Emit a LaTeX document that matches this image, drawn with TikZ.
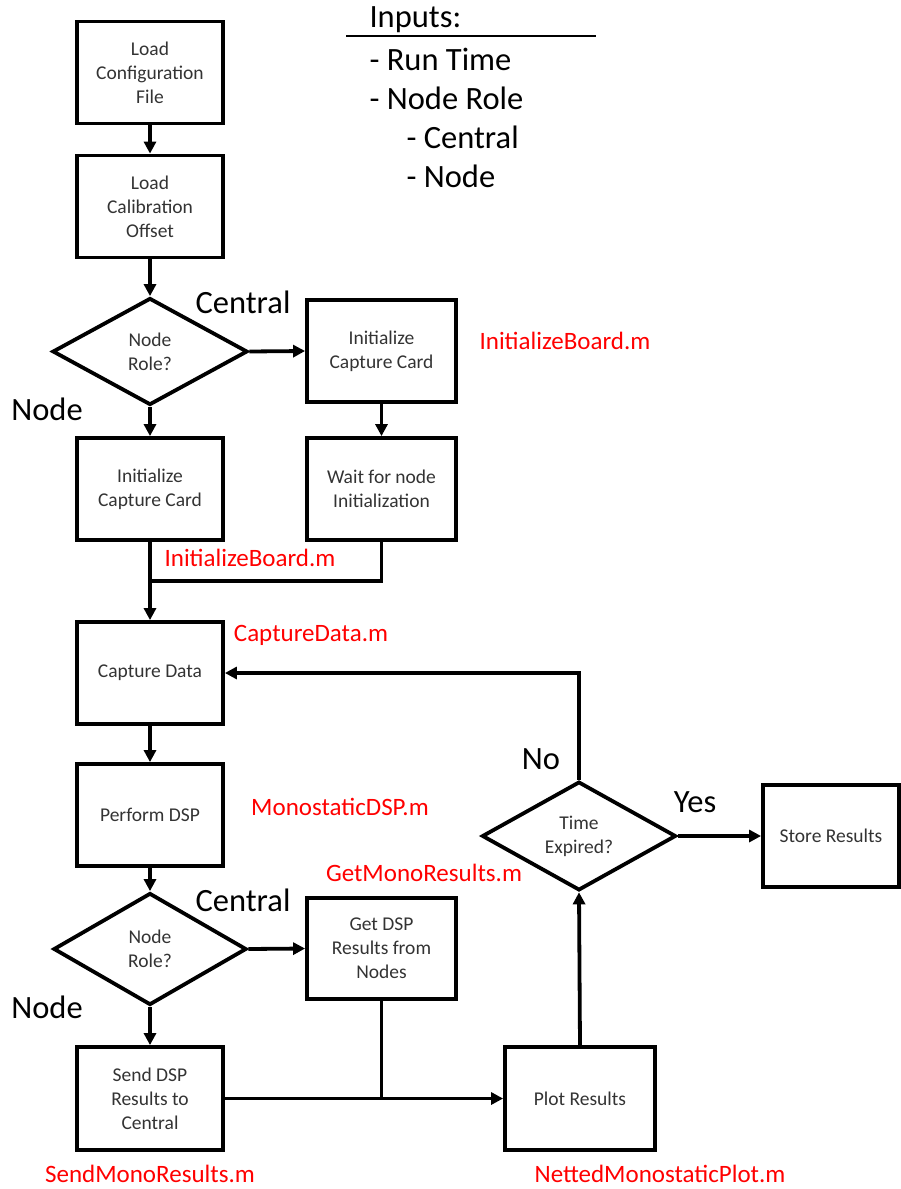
\documentclass[tikz,border=0pt]{standalone}
\usepackage{fontspec}
\setmainfont{Carlito}
\usetikzlibrary{shapes.geometric,arrows.meta}
\definecolor{boxtext}{gray}{0.2}
\definecolor{fnred}{RGB}{255,0,0}
\tikzset{
  every node/.style={font=\fontsize{19.5}{24}\selectfont},
  procbox/.style={draw, line width=3.8pt, minimum width=146pt, minimum height=102pt, inner sep=2pt, align=center, text=boxtext},
  decbox/.style={draw, diamond, line width=3.8pt, minimum width=195pt, minimum height=107pt, inner sep=0pt, align=center, text=boxtext},
  conn/.style={line width=3.8pt},
  arr/.style={line width=3.8pt, -{Triangle[length=12pt,width=12pt]}},
  biglabel/.style={font=\fontsize{32.5}{36}\selectfont, text=black},
  redlabel/.style={font=\fontsize{25}{28}\selectfont, text=fnred},
  inlabel/.style={font=\fontsize{32.5}{36}\selectfont, text=black, anchor=west},
}
\begin{document}
\begin{tikzpicture}[x=1pt,y=-1pt]
\useasboundingbox (0,0) rectangle (901,1189);
% nodes
\node[procbox] (cfg) at (150,72.5) {Load\\Configuration\\File};
\node[procbox] (cal) at (150,206.5) {Load\\Calibration\\Offset};
\node[decbox] (d1) at (150,351.5) {Node\\Role?};
\node[procbox, minimum width=149pt] (icc2) at (381.5,351) {Initialize\\Capture Card};
\node[procbox] (icc1) at (150,489) {Initialize\\Capture Card};
\node[procbox, minimum width=149pt] (wait) at (381.5,489) {Wait for node\\Initialization};
\node[procbox] (cap) at (150,673) {Capture Data};
\node[procbox] (dsp) at (150,815) {Perform DSP};
\node[decbox, minimum width=193pt, minimum height=112pt] (d2) at (150,949) {Node\\Role?};
\node[procbox, minimum width=149pt, minimum height=101pt] (get) at (381.5,948.5) {Get DSP\\Results from\\Nodes};
\node[procbox, minimum height=103pt] (send) at (150,1098.5) {Send DSP\\Results to\\Central};
\node[procbox, minimum width=150pt, minimum height=103pt] (plot) at (580,1098.5) {Plot Results};
\node[decbox, minimum width=194pt, minimum height=108pt] (d3) at (579,836) {Time\\Expired?};
\node[procbox, minimum width=136pt] (store) at (831,836) {Store Results};
\coordinate (j1) at (150,581);
% connectors
\draw[arr] (cfg) -- (cal);
\draw[arr] (cal) -- (d1.north);
\draw[arr] (d1.east) -- (icc2.west);
\draw[arr] (d1.south) -- (icc1.north);
\draw[arr] (icc2) -- (wait);
\draw[conn] (wait.south) |- (j1);
\draw[arr] (icc1.south) -- (cap.north);
\draw[arr] (cap) -- (dsp);
\draw[arr] (dsp.south) -- (d2.north);
\draw[arr] (d2.east) -- (get.west);
\draw[arr] (d2.south) -- (send.north);
\draw[arr] (send.east) -- (plot.west);
\draw[conn] (get.south) -- (get.south |- send.east);
\draw[arr] (plot.north) -- (d3.south);
\draw[arr] (d3.north) |- (cap.east);
\draw[arr] (d3.east) -- (store.west);
% labels
\node[biglabel] (lc1) at (243,302) {Central};
\node[biglabel] (ln1) at (47,409) {Node};
\node[biglabel] (lc2) at (243,900) {Central};
\node[biglabel] (ln2) at (47,1007) {Node};
\node[biglabel] (lno) at (541,759) {No};
\node[biglabel] (lyes) at (695,802) {Yes};
\node[redlabel] (r1) at (565,341) {InitializeBoard.m};
\node[redlabel] (r2) at (250,558) {InitializeBoard.m};
\node[redlabel] (r3) at (311,635) {CaptureData.m};
\node[redlabel] (r4) at (340,807) {MonostaticDSP.m};
\node[redlabel] (r5) at (424,873) {GetMonoResults.m};
\node[redlabel] (r6) at (150,1174) {SendMonoResults.m};
\node[redlabel] (r7) at (660,1174) {NettedMonostaticPlot.m};
% inputs
\node[inlabel] (in0) at (366,20) {Inputs:};
\draw[line width=1.5pt] (346,36) -- (596,36);
\node[inlabel] (in1) at (366,59) {- Run Time};
\node[inlabel] (in2) at (366,98) {- Node Role};
\node[inlabel] (in3) at (403,137) {- Central};
\node[inlabel] (in4) at (403,176) {- Node};
\end{tikzpicture}
\end{document}
